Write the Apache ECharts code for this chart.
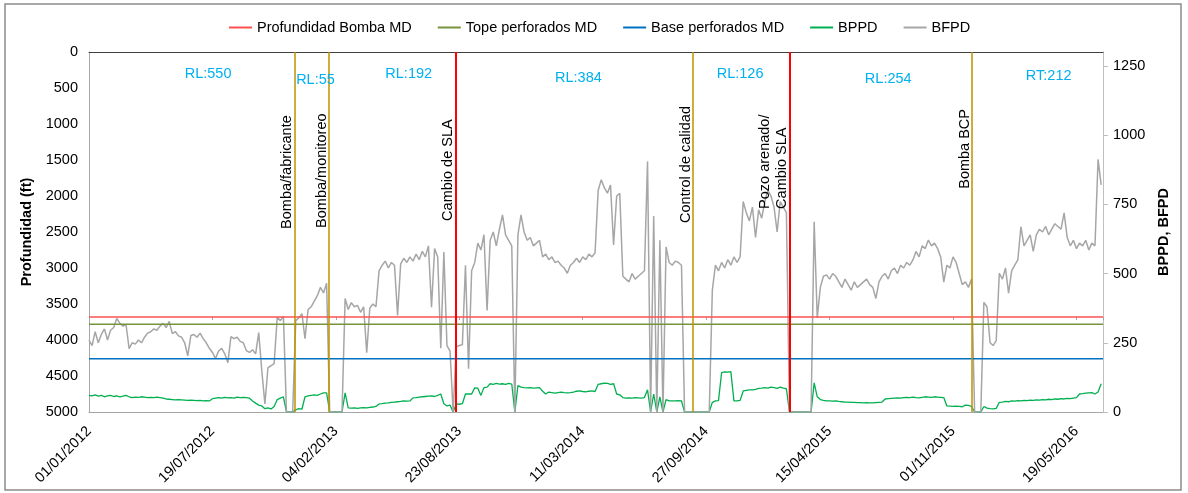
<!DOCTYPE html>
<html><head><meta charset="utf-8">
<script src="https://cdn.jsdelivr.net/npm/echarts@6/dist/echarts.min.js"></script>
<style>html,body{margin:0;padding:0;background:#fff}#c{width:1188px;height:493px}</style>
</head><body><div id="c"></div>
<script>
// ---------------- DATA ----------------
const START_DATE = '2012-01-01';
const END_DATE = '2016-07-01';
const STEP_DAYS = 5; // one reading every 5 days from START_DATE

const depthBombaMD = 3680;   // ft
const depthTopeMD = 3780;    // ft
const depthBaseMD = 4260;    // ft

// BFPD (gross fluid, bbl/d), every STEP_DAYS from START_DATE
const bfpd = [
260,240,290,250,280,300,260,295,305,338,
320,310,315,229,250,245,260,250,270,285,
290,300,295,310,320,305,327,283,290,275,
270,250,203,276,280,270,285,265,250,230,
215,193,220,230,210,178,272,265,270,255,
250,222,215,225,210,287,149,29,160,167,
175,342,330,345,0,0,0,330,340,355,
265,370,380,400,420,450,430,465,0,0,
0,0,0,410,370,395,380,385,360,380,
214,375,390,380,510,530,545,520,540,530,
349,535,555,540,560,545,570,550,580,560,
600,378,590,560,230,578,240,220,0,235,
240,243,530,156,510,540,610,585,640,367,
620,650,600,660,712,640,620,600,0,640,
712,650,620,630,600,610,620,560,570,550,
560,540,545,530,520,501,530,540,555,540,
560,550,570,560,575,800,839,810,790,820,
603,780,790,490,480,470,500,480,490,500,
510,905,0,708,0,620,0,596,540,530,
545,540,530,0,0,0,0,0,0,0,
0,0,440,530,510,540,520,550,530,560,
540,560,760,720,690,740,630,730,700,760,
800,780,740,650,760,740,720,0,0,0,
0,0,0,0,0,687,340,450,490,495,
480,500,490,470,450,480,460,440,470,450,
460,470,480,460,450,410,470,490,500,480,
510,520,500,530,520,540,530,549,580,560,
600,590,621,600,610,590,560,469,530,520,
560,540,500,460,470,450,480,0,0,0,
396,380,250,240,258,501,480,520,429,510,
530,549,669,600,620,640,580,640,660,650,
670,640,660,680,670,660,719,630,600,620,
590,610,600,620,585,610,600,912,820
];

// BPPD (oil, bbl/d), every STEP_DAYS from START_DATE
const bppd = [
60,58,62,57,60,55,58,60,56,58,
55,57,60,55,52,54,53,55,54,52,
53,52,54,52,50,47,46,45,44,45,
44,43,42,43,42,41,42,40,41,40,
48,50,52,50,53,51,52,50,54,52,
53,52,50,40,32,25,22,12,15,11,
20,45,50,55,0,0,0,8,12,10,
55,58,60,62,60,65,69,69,0,0,
0,0,0,69,15,14,15,13,15,16,
15,17,18,20,29,30,32,33,35,36,
37,38,40,39,40,51,52,54,55,56,
57,58,56,60,65,30,22,25,0,29,
28,30,65,65,65,87,86,60,88,90,
102,100,103,101,102,100,103,101,0,95,
90,88,87,88,86,87,88,75,65,72,
70,68,70,72,70,69,70,72,75,76,
74,73,75,76,74,100,102,104,103,100,
102,65,62,52,50,51,50,52,51,50,
52,80,0,65,0,55,0,45,40,40,
40,41,40,0,0,0,0,0,0,0,
0,0,35,40,41,142,145,144,146,40,
40,42,76,78,80,80,82,85,86,88,
86,90,88,85,90,86,84,0,0,0,
0,0,0,0,0,105,55,45,42,40,
40,39,40,38,37,36,36,35,35,34,
34,33,34,33,33,34,35,36,47,48,
49,50,51,50,52,53,52,54,52,51,
53,55,54,53,55,54,53,52,22,21,
20,21,20,19,25,24,20,0,0,0,
20,14,12,11,13,35,36,38,37,40,
39,41,40,42,41,43,42,44,43,45,
44,46,45,47,46,48,47,49,48,50,
52,65,66,68,69,70,65,72,102
];

// Well events
const eventDates  = ['2012-11-29','2013-01-24','2013-08-17','2014-09-06','2015-02-09','2015-12-02'];
const eventLabels = ['Bomba/fabricante','Bomba/monitoreo','Cambio de SLA','Control de calidad','Pozo arenado/\nCambio SLA','Bomba BCP'];
const eventKinds  = ['bomba','bomba','sla','control','sla','bomba'];

// Run-life annotations (days) for each run
const runLabels = ['RL:550','RL:55','RL:192','RL:384','RL:126','RL:254','RT:212'];
const runDates  = ['2012-07-12','2013-01-02','2013-06-02','2014-03-04','2014-11-21','2015-07-19','2016-04-04'];

// Axis ranges / tick labels
const depthAxis = { min: 0, max: 5000, interval: 500 };
const rateAxis = { min: 0, max: 1300, interval: 250 };
const dateTickDays = 200;

// ---------------- CHART ----------------
const FONT = "'Liberation Sans', Arial, sans-serif";
const T0 = Date.UTC(2012, 0, 1);
const dayOf = s => { const p = s.split('-').map(Number); return Math.round((Date.UTC(p[0], p[1]-1, p[2]) - T0) / 864e5); };
const pad = n => (n < 10 ? '0' : '') + n;
const fmtDate = v => { const d = new Date(T0 + v * 864e5); return pad(d.getUTCDate()) + '/' + pad(d.getUTCMonth()+1) + '/' + d.getUTCFullYear(); };
const fmtNum = v => String(v);
const MAX_DAY = dayOf(END_DATE);

const toPairs = arr => arr.map((v, i) => [dayOf(START_DATE) + i * STEP_DAYS, v]);
const hline = v => [[0, v], [MAX_DAY, v]];

// layout-only: where the rotated event texts start (depth units) and run label heights
const eventLabelStart = [2443, 2429, 2332, 2360, 2165, 1886];
const runLabelDepth = [299, 383, 299, 355, 299, 369, 327];
const kindColor = { bomba: '#BF9000', sla: '#FF0000', control: '#BF9000' };

const eventLines = eventDates.map((d, k) => ({
  xAxis: dayOf(d),
  lineStyle: { color: kindColor[eventKinds[k]], width: eventKinds[k] === 'sla' ? 2 : 1.5, type: 'solid' },
  label: { show: false }
}));
const eventTexts = eventDates.map((d, k) => ([
  { coord: [dayOf(d), eventLabelStart[k]],
    lineStyle: { color: 'rgba(255,255,255,0)', width: 1 },
    label: { show: true, position: 'insideStartTop', distance: -1, formatter: eventLabels[k],
             color: '#000', fontSize: 14.5, fontFamily: FONT, lineHeight: 17 } },
  { coord: [dayOf(d), 0] }
]));

const axisTxt = { fontSize: 14.5, color: '#000', fontFamily: FONT };

const option = {
  animation: false,
  backgroundColor: '#fff',
  textStyle: { fontFamily: FONT },
  graphic: [{ type: 'rect', shape: { x: 5, y: 4, width: 1176, height: 486 }, style: { fill: 'none', stroke: '#8C8C8C', lineWidth: 1.5 }, silent: true, z: -1 }],
  legend: {
    top: 15, left: 224, itemGap: 26, itemWidth: 23, itemHeight: 2, icon: 'rect',
    textStyle: { fontSize: 14.5, color: '#000', fontFamily: FONT },
    data: ['Profundidad Bomba MD', 'Tope perforados MD', 'Base perforados MD', 'BPPD', 'BFPD']
  },
  grid: { left: 89, right: 85, top: 52, bottom: 81, containLabel: false },
  xAxis: [
    { type: 'value', min: 0, max: MAX_DAY, interval: dateTickDays, position: 'bottom',
      axisLine: { onZero: false, lineStyle: { color: '#A6A6A6', width: 1 } },
      axisTick: { show: false }, splitLine: { show: false },
      axisLabel: Object.assign({ rotate: 45, margin: 17, formatter: fmtDate, showMaxLabel: false, showMinLabel: true }, axisTxt) },
    { type: 'value', min: 0, max: MAX_DAY, position: 'top',
      axisLine: { onZero: false, lineStyle: { color: '#404040', width: 1 } },
      axisTick: { show: false }, axisLabel: { show: false }, splitLine: { show: false } },
    { type: 'value', min: 0, max: MAX_DAY, interval: dateTickDays, position: 'bottom', offset: -95,
      axisLine: { show: false, onZero: false },
      axisTick: { show: true, length: 3, lineStyle: { color: '#A6A6A6' } },
      axisLabel: { show: false }, splitLine: { show: false } }
  ],
  yAxis: [
    { type: 'value', inverse: true, min: depthAxis.min, max: depthAxis.max, interval: depthAxis.interval, position: 'left',
      name: 'Profundidad (ft)', nameLocation: 'middle', nameGap: 44, nameRotate: 90,
      nameTextStyle: Object.assign({ fontWeight: 'bold' }, axisTxt),
      axisLine: { show: true, onZero: false, lineStyle: { color: '#A6A6A6' } },
      axisTick: { show: false }, splitLine: { show: false },
      axisLabel: Object.assign({ margin: 11, formatter: fmtNum }, axisTxt) },
    { type: 'value', min: rateAxis.min, max: rateAxis.max, interval: rateAxis.interval, position: 'right',
      name: 'BPPD, BFPD', nameLocation: 'middle', nameGap: 49, nameRotate: 90,
      nameTextStyle: Object.assign({ fontWeight: 'bold' }, axisTxt),
      axisLine: { show: true, onZero: false, lineStyle: { color: '#BFBFBF' } },
      axisTick: { show: true, length: 5, lineStyle: { color: '#BFBFBF' } }, splitLine: { show: false },
      axisLabel: Object.assign({ margin: 10, showMaxLabel: false, formatter: fmtNum }, axisTxt) }
  ],
  series: [
    { name: 'BPPD', type: 'line', xAxisIndex: 0, yAxisIndex: 1, data: toPairs(bppd), showSymbol: false, symbol: 'none',
      lineStyle: { color: '#00B050', width: 1.3 }, itemStyle: { color: '#00B050' }, z: 3 },
    { name: 'BFPD', type: 'line', xAxisIndex: 0, yAxisIndex: 1, data: toPairs(bfpd), showSymbol: false, symbol: 'none',
      lineStyle: { color: '#A6A6A6', width: 1.5 }, itemStyle: { color: '#A6A6A6' }, z: 3 },
    { name: 'Profundidad Bomba MD', type: 'line', xAxisIndex: 0, yAxisIndex: 0, data: hline(depthBombaMD), symbol: 'none',
      lineStyle: { color: '#FF5050', width: 1.5 }, itemStyle: { color: '#FF5050' }, z: 4 },
    { name: 'Tope perforados MD', type: 'line', xAxisIndex: 0, yAxisIndex: 0, data: hline(depthTopeMD), symbol: 'none',
      lineStyle: { color: '#77933C', width: 1.5 }, itemStyle: { color: '#77933C' }, z: 4 },
    { name: 'Base perforados MD', type: 'line', xAxisIndex: 0, yAxisIndex: 0, data: hline(depthBaseMD), symbol: 'none',
      lineStyle: { color: '#0070C0', width: 1.5 }, itemStyle: { color: '#0070C0' }, z: 4 },
    { name: 'eventos', type: 'line', xAxisIndex: 0, yAxisIndex: 0, data: [], symbol: 'none', z: 6,
      markLine: { silent: true, symbol: ['none', 'none'], animation: false, data: eventLines.concat(eventTexts) },
      markPoint: { silent: true, symbol: 'circle', symbolSize: 1, itemStyle: { color: 'rgba(0,0,0,0)' },
        label: { show: true, position: 'inside', formatter: '{b}', color: '#00B0F0', fontSize: 14.5, fontFamily: FONT },
        data: runLabels.map((t, k) => ({ name: t, coord: [dayOf(runDates[k]), runLabelDepth[k]] })) } }
  ]
};
const chart = echarts.init(document.getElementById('c'));
chart.setOption(option);
</script></body></html>
